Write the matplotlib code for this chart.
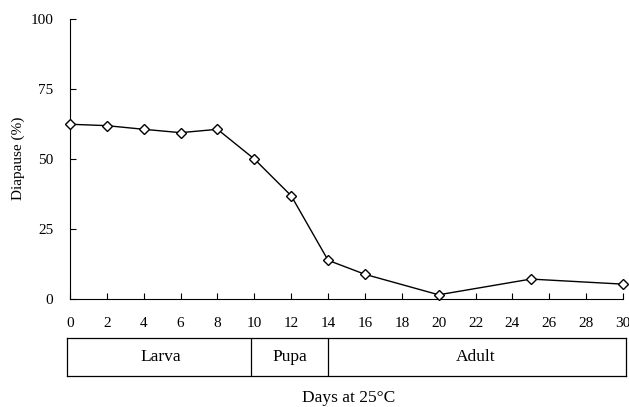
import matplotlib
matplotlib.use('Agg')
import matplotlib.pyplot as plt

days = [0, 2, 4, 6, 8, 10, 12, 14, 16, 20, 25, 30]
diapause = [62.3, 61.8, 60.5, 59.3, 60.5, 49.9, 36.8, 13.8, 8.8, 1.5, 7.1, 5.3]

xticks = list(range(0, 31, 2))
yticks = [0, 25, 50, 75, 100]

stages = ['Larva', 'Pupa', 'Adult']
stage_edges = [0, 9.8, 14, 30]

plt.rcParams['font.family'] = ['Liberation Serif', 'DejaVu Serif']
plt.rcParams['font.size'] = 11

fig = plt.figure(figsize=(6.29, 4.07), dpi=100)

ax = fig.add_axes([70/629, 1 - 299/407, 553/629, 280.5/407])
ax.plot(days, diapause, color='black', lw=1, marker='D', markersize=5,
        markerfacecolor='white', markeredgecolor='black', markeredgewidth=1,
        clip_on=False, zorder=3)
ax.set_xlim(0, 30)
ax.set_ylim(0, 100)
ax.set_xticks(xticks)
ax.set_yticks(yticks)
ax.spines['top'].set_visible(False)
ax.spines['right'].set_visible(False)
for s in ['left', 'bottom']:
    ax.spines[s].set_linewidth(0.8)
ax.tick_params(axis='x', direction='in', length=4, width=0.8, pad=13)
ax.tick_params(axis='y', direction='in', length=4, width=0.8, pad=12)
ax.set_ylabel('Diapause (%)', labelpad=4)

# life stage bar under the axis
scale = 553 / 30
bx = fig.add_axes([67/629, 31/407, 559/629, 38/407])
bx.set_xlim(-3/scale, 30 + 3/scale)
bx.set_ylim(0, 1)
bx.set_xticks([])
bx.set_yticks([])
for s in bx.spines.values():
    s.set_linewidth(0.9)
for e in stage_edges[1:-1]:
    bx.axvline(e, color='black', lw=0.9)
for i, name in enumerate(stages):
    mid = (stage_edges[i] + stage_edges[i + 1]) / 2
    bx.text(mid, 0.5, name, ha='center', va='center', fontsize=12.5)

fig.text(349/629, 1 - 398/407, 'Days at 25°C', ha='center', va='center',
         fontsize=12.5)

fig.savefig('out.png', dpi=100)
